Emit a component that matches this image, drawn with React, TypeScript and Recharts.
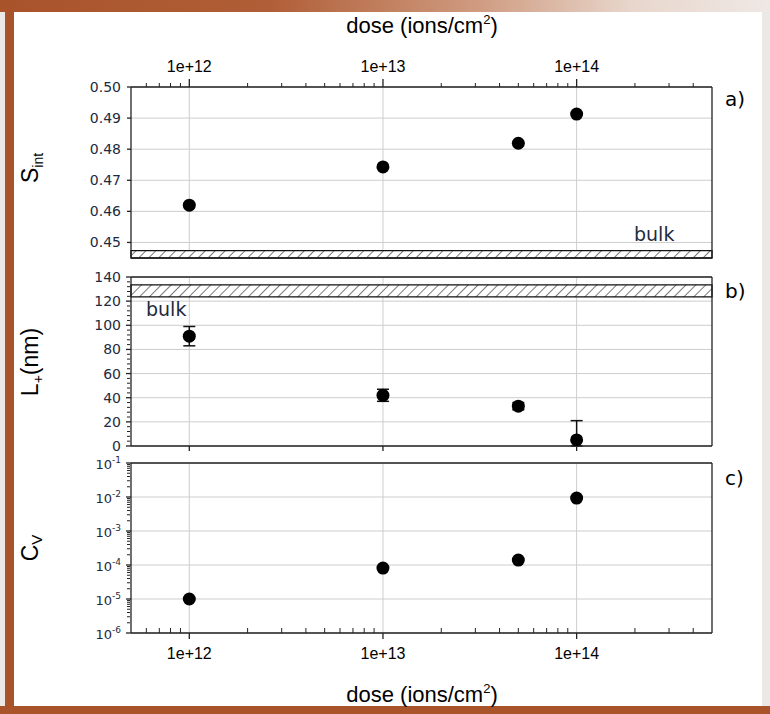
import React from 'react'
import { ScatterChart, Scatter, XAxis, YAxis, CartesianGrid, ReferenceArea, ErrorBar } from 'recharts'

const SANS = '"Liberation Sans", Arial, sans-serif'
const VERA = '"DejaVu Sans", Verdana, sans-serif'
const INK = '#1e2a40'

// measured points (dose in ions/cm2)
const doses = [1e12, 1e13, 5e13, 1e14]
const sInt = [0.462, 0.4743, 0.4819, 0.4913]
const lPlus = [91, 42, 33, 5]
const lPlusErr = [[8, 8], [5, 5], [3, 3], [5, 16]]
const cv = [1e-5, 8.1e-5, 1.4e-4, 9.3e-3]

// bulk reference bands
const sBulk = [0.445, 0.4474]
const lBulk = [123.5, 133.5]

const doseDomain = [5e11, 5e14]
const doseMajor = [1e12, 1e13, 1e14]
const doseLabels = ['1e+12', '1e+13', '1e+14']
const doseMinor = [
  6e11, 7e11, 8e11, 9e11,
  2e12, 3e12, 4e12, 5e12, 6e12, 7e12, 8e12, 9e12,
  2e13, 3e13, 4e13, 5e13, 6e13, 7e13, 8e13, 9e13,
  2e14, 3e14, 4e14,
]
const doseAll = [...doseMajor, ...doseMinor]

const sDomain = [0.445, 0.5]
const sTicks = [0.45, 0.46, 0.47, 0.48, 0.49, 0.5]
const lDomain = [0, 140]
const lTicks = [0, 20, 40, 60, 80, 100, 120, 140]
const lMinor = [4, 8, 12, 16, 24, 28, 32, 36, 44, 48, 52, 56, 64, 68, 72, 76, 84, 88, 92, 96, 104, 108, 112, 116, 124, 128, 132, 136]
const cvDomain = [1e-6, 1e-1]
const cvTicks = [1e-6, 1e-5, 1e-4, 1e-3, 1e-2, 1e-1]
const cvMinor = [
  2e-6, 3e-6, 4e-6, 5e-6, 6e-6, 7e-6, 8e-6, 9e-6,
  2e-5, 3e-5, 4e-5, 5e-5, 6e-5, 7e-5, 8e-5, 9e-5,
  2e-4, 3e-4, 4e-4, 5e-4, 6e-4, 7e-4, 8e-4, 9e-4,
  2e-3, 3e-3, 4e-3, 5e-3, 6e-3, 7e-3, 8e-3, 9e-3,
  2e-2, 3e-2, 4e-2, 5e-2, 6e-2, 7e-2, 8e-2, 9e-2,
]

const sData = doses.map((x, i) => ({ x, y: sInt[i] }))
const lData = doses.map((x, i) => ({ x, y: lPlus[i], err: lPlusErr[i] }))
const cData = doses.map((x, i) => ({ x, y: cv[i] }))

const W = 770
const H = 714
const AX = { stroke: '#222', strokeWidth: 1.3 }
const MINOR = { stroke: '#222', strokeWidth: 1 }
const GRID = '#cdcdcd'
const box: React.CSSProperties = { position: 'absolute', left: 0, top: 0 }

const Dot = (p: any) => <circle cx={p.cx} cy={p.cy} r={6.5} fill="#000" />
const NoLabel = () => <g />

const doseLabel = (v: number) => doseLabels[doseMajor.indexOf(v)] ?? ''

// top axis of panel a: major ticks 8px up with label, minor ticks 4px up
const TopDoseTick = (p: any) => {
  const major = doseMajor.includes(p.payload.value)
  return (
    <g>
      <line x1={p.x} x2={p.x} y1={p.y} y2={p.y - (major ? 8 : 4)} stroke="#222" strokeWidth={major ? 1.3 : 1} />
      {major && (
        <text x={p.x} y={p.y - 15} textAnchor="middle" fontSize={16} fill="#000" fontFamily={SANS}>
          {doseLabel(p.payload.value)}
        </text>
      )}
    </g>
  )
}

// bottom axis of panel c: major ticks 6px down with label, minor ticks 5px inside
const BottomDoseTick = (p: any) => {
  const major = doseMajor.includes(p.payload.value)
  return (
    <g>
      <line x1={p.x} x2={p.x} y1={p.y} y2={major ? p.y + 6 : p.y - 5} stroke="#222" strokeWidth={major ? 1.3 : 1} />
      {major && (
        <text x={p.x} y={p.y + 26} textAnchor="middle" fontSize={16} fill="#000" fontFamily={SANS}>
          {doseLabel(p.payload.value)}
        </text>
      )}
    </g>
  )
}

const NumTick = (digits: number) => (p: any) => (
  <text x={p.x} y={p.y + 5} textAnchor="end" fontSize={14} fill={INK} fontFamily={VERA}>
    {p.payload.value.toFixed(digits)}
  </text>
)
const STick = NumTick(2)
const LTick = NumTick(0)

const PowTick = (p: any) => {
  const exp = Math.round(Math.log10(p.payload.value))
  return (
    <text x={p.x} y={p.y + 6} textAnchor="end" fontSize={13} fill={INK} fontFamily={VERA}>
      10<tspan fontSize={9} dy={-6}>{exp}</tspan>
    </text>
  )
}

function PanelA() {
  return (
    <div style={box}>
      <ScatterChart width={W} height={H} margin={{ top: 86, right: 57, bottom: 455, left: 130 }}>
        <CartesianGrid stroke={GRID} horizontalValues={sTicks} verticalValues={doseMajor} />
        <XAxis type="number" dataKey="x" scale="log" domain={doseDomain} ticks={doseAll} orientation="top" interval={0}
          height={1} tickSize={0} tickMargin={0} tick={TopDoseTick} axisLine={AX} tickLine={false} allowDataOverflow />
        <XAxis xAxisId="b" type="number" scale="log" domain={doseDomain} ticks={doseMajor} orientation="bottom" interval={0}
          height={1} tickSize={5} tick={NoLabel} axisLine={AX} tickLine={AX} allowDataOverflow />
        <YAxis type="number" dataKey="y" domain={sDomain} ticks={sTicks} width={1} tickSize={4} tickMargin={6} interval={0}
          tick={STick} axisLine={AX} tickLine={AX} allowDataOverflow />
        <YAxis yAxisId="r" type="number" orientation="right" domain={sDomain} width={1} tick={NoLabel}
          tickLine={false} axisLine={AX} allowDataOverflow />
        <ReferenceArea x1={doseDomain[0]} x2={doseDomain[1]} y1={sBulk[0]} y2={sBulk[1]}
          fill="url(#hatch)" fillOpacity={1} stroke="#111" strokeWidth={1.3} />
        <Scatter data={sData} shape={Dot} isAnimationActive={false} />
      </ScatterChart>
    </div>
  )
}

function PanelB() {
  return (
    <div style={box}>
      <ScatterChart width={W} height={H} margin={{ top: 276, right: 57, bottom: 267, left: 129 }}>
        <CartesianGrid stroke={GRID} horizontalValues={lTicks} verticalValues={doseMajor} />
        <XAxis type="number" dataKey="x" scale="log" domain={doseDomain} ticks={doseMajor} orientation="bottom" interval={0}
          height={1} tickSize={5} tick={NoLabel} axisLine={AX} tickLine={AX} allowDataOverflow />
        <XAxis xAxisId="t" type="number" scale="log" domain={doseDomain} ticks={doseMajor} orientation="top" interval={0}
          height={1} tickSize={5} tick={NoLabel} axisLine={AX} tickLine={AX} allowDataOverflow />
        <YAxis yAxisId="lm" type="number" domain={lDomain} ticks={lMinor} width={1} tickSize={3} tick={NoLabel} interval={0}
          axisLine={false} tickLine={MINOR} allowDataOverflow />
        <YAxis type="number" dataKey="y" domain={lDomain} ticks={lTicks} width={1} tickSize={5} tickMargin={5} interval={0}
          tick={LTick} axisLine={AX} tickLine={AX} allowDataOverflow />
        <YAxis yAxisId="r" type="number" orientation="right" domain={lDomain} width={1} tick={NoLabel}
          tickLine={false} axisLine={AX} allowDataOverflow />
        <ReferenceArea x1={doseDomain[0]} x2={doseDomain[1]} y1={lBulk[0]} y2={lBulk[1]}
          fill="url(#hatch)" fillOpacity={1} stroke="#111" strokeWidth={1.3} />
        <Scatter data={lData} shape={Dot} isAnimationActive={false}>
          <ErrorBar dataKey="err" direction="y" width={6} stroke="#111" strokeWidth={1.5} isAnimationActive={false} />
        </Scatter>
      </ScatterChart>
    </div>
  )
}

function PanelC() {
  return (
    <div style={box}>
      <ScatterChart width={W} height={H} margin={{ top: 462, right: 57, bottom: 80, left: 129 }}>
        <CartesianGrid stroke={GRID} horizontalValues={cvTicks} verticalValues={doseMajor} />
        <XAxis type="number" dataKey="x" scale="log" domain={doseDomain} ticks={doseAll} orientation="bottom" interval={0}
          height={1} tickSize={0} tickMargin={0} tick={BottomDoseTick} axisLine={AX} tickLine={false} allowDataOverflow />
        <XAxis xAxisId="t" type="number" scale="log" domain={doseDomain} ticks={doseMajor} orientation="top" interval={0}
          height={1} tickSize={5} tick={NoLabel} axisLine={AX} tickLine={AX} allowDataOverflow />
        <YAxis yAxisId="lm" type="number" scale="log" domain={cvDomain} ticks={cvMinor} width={1} tickSize={3} interval={0}
          tick={NoLabel} axisLine={false} tickLine={MINOR} allowDataOverflow />
        <YAxis type="number" dataKey="y" scale="log" domain={cvDomain} ticks={cvTicks} width={1} tickSize={5} interval={0}
          tickMargin={5} tick={PowTick} axisLine={AX} tickLine={AX} allowDataOverflow />
        <YAxis yAxisId="r" type="number" orientation="right" scale="log" domain={cvDomain} width={1} tick={NoLabel}
          tickLine={false} axisLine={AX} allowDataOverflow />
        <Scatter data={cData} shape={Dot} isAnimationActive={false} />
      </ScatterChart>
    </div>
  )
}

export default function App() {
  return (
    <div style={{ position: 'absolute', left: 0, top: 0, width: W, height: H, background: '#ebe8e5', overflow: 'hidden' }}>
      <div style={{ position: 'absolute', left: 0, top: 0, width: W, height: 12,
        background: 'linear-gradient(90deg, #a9532b 0%, #b05e37 35%, #cf9b80 62%, #e8d6cc 82%, #efe8e5 100%)' }} />
      <div style={{ position: 'absolute', left: 5, top: 0, width: 9, height: H, background: '#a9532b' }} />
      <div style={{ position: 'absolute', left: 0, top: 706, width: W, height: 8, background: '#a9532b' }} />
      <div style={{ position: 'absolute', left: 14, top: 12, width: 748, height: 694, background: '#fff' }} />

      <svg width={0} height={0} style={{ position: 'absolute' }}>
        <defs>
          <pattern id="hatch" width={7} height={7} patternUnits="userSpaceOnUse" patternTransform="rotate(45)">
            <rect width={7} height={7} fill="#fff" />
            <line x1={0} y1={0} x2={0} y2={7} stroke="#222" strokeWidth={1.2} />
          </pattern>
        </defs>
      </svg>

      <PanelA />
      <PanelB />
      <PanelC />

      <svg width={W} height={H} style={{ position: 'absolute', left: 0, top: 0, pointerEvents: 'none' }}>
        <g fontFamily={SANS} fill="#000">
          <text x={422} y={33} textAnchor="middle" fontSize={22}>
            dose (ions/cm<tspan fontSize={13} dy={-9}>2</tspan><tspan dy={9}>)</tspan>
          </text>
          <text x={422} y={702} textAnchor="middle" fontSize={22}>
            dose (ions/cm<tspan fontSize={13} dy={-9}>2</tspan><tspan dy={9}>)</tspan>
          </text>
          <text transform="translate(38,168) rotate(-90)" textAnchor="middle" fontSize={23}>
            S<tspan fontSize={14} dy={5}>int</tspan>
          </text>
          <text transform="translate(38,362) rotate(-90)" textAnchor="middle" fontSize={23}>
            L<tspan fontSize={14} dy={5}>+</tspan><tspan dy={-5}>(nm)</tspan>
          </text>
          <text transform="translate(38,548) rotate(-90)" textAnchor="middle" fontSize={23}>
            C<tspan fontSize={15} dy={4}>V</tspan>
          </text>
        </g>
        <g fontFamily={VERA} fill="#000" fontSize={20}>
          <text x={725} y={106}>a)</text>
          <text x={725} y={298}>b)</text>
          <text x={725} y={485}>c)</text>
        </g>
        <g fontFamily={VERA} fill={INK} fontSize={19}>
          <text x={634} y={241}>bulk</text>
          <text x={146} y={316}>bulk</text>
        </g>
      </svg>
    </div>
  )
}
